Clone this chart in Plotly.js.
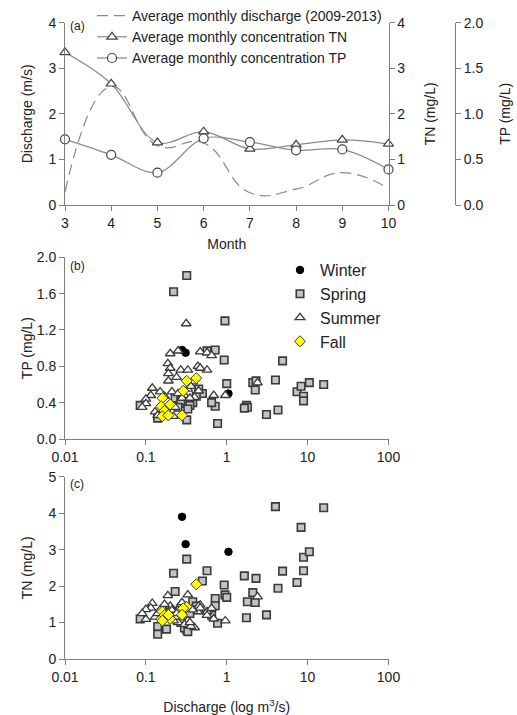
<!DOCTYPE html>
<html>
<head>
<meta charset="utf-8">
<script src="https://cdn.plot.ly/plotly-3.0.1.min.js"></script>
<style>html,body{margin:0;padding:0;background:#fff}#chart{width:517px;height:715px}</style>
</head>
<body>
<div id="chart"></div>
<script>
// ---- Panel (a): monthly averages ----
const months = [3, 4, 5, 6, 7, 8, 9, 10];
const dischargeMonthly = [0.29, 2.6, 1.3, 1.36, 0.27, 0.35, 0.71, 0.36];
const tnMonthly = [3.35, 2.66, 1.37, 1.61, 1.23, 1.32, 1.43, 1.34];
const tpMonthly = [0.72, 0.55, 0.355, 0.73, 0.69, 0.60, 0.61, 0.39];

// ---- Panels (b) & (c): samples by season (discharge, TP, TN) ----
const winterQ  = [0.28, 0.31, 1.05];
const winterTP = [0.98, 0.95, 0.50];
const winterTN = [3.90, 3.15, 2.94];

const springQ  = [1.75, 1.80, 1.65, 2.10, 2.30, 2.25, 3.10, 4.00, 4.30, 4.90, 7.40, 8.30, 8.90, 8.90, 10.5, 15.8,
                  0.57, 0.50, 0.93, 0.95, 1.00, 0.72, 0.72, 0.65, 0.77,
                  0.32, 0.22, 0.23, 0.38, 0.085, 0.14, 0.14, 0.18, 0.32, 0.30, 0.27, 0.35, 0.42, 0.33, 0.25, 0.45];
const springTP = [0.37, 0.35, 0.34, 0.62, 0.64, 0.54, 0.27, 0.65, 0.32, 0.86, 0.52, 0.58, 0.47, 0.42, 0.62, 0.60,
                  0.97, 0.50, 0.87, 1.30, 0.61, 0.98, 0.36, 0.40, 0.17,
                  1.80, 1.62, 0.45, 0.40, 0.37, 0.25, 0.23, 0.28, 0.21, 0.39, 0.42, 0.37, 0.47, 0.33, 0.35, 0.55];
const springTN = [1.13, 1.57, 2.28, 1.82, 2.21, 1.55, 1.21, 4.18, 1.94, 2.41, 2.10, 3.61, 2.79, 2.42, 2.94, 4.15,
                  2.42, 2.14, 2.03, 1.76, 1.69, 1.66, 1.46, 1.20, 0.98,
                  2.74, 2.35, 1.85, 1.57, 1.10, 0.89, 0.68, 0.82, 0.80, 0.85, 1.00, 1.25, 1.45, 0.75, 1.30, 1.35];

const summerQ  = [0.315, 0.20, 0.25, 0.47, 0.57, 0.65, 0.187, 0.20, 0.19, 0.19, 0.27, 0.33, 0.44, 0.57, 0.12, 0.115,
                  0.10, 0.10, 0.09, 0.38, 0.33, 0.21, 0.69, 0.96, 0.40, 2.40, 0.13, 0.14, 0.25, 0.30, 0.36, 0.23,
                  0.17, 0.45, 0.22, 0.28, 0.35, 0.15, 0.47, 0.24];
const summerTP = [1.27, 0.94, 0.97, 0.96, 0.95, 0.92, 0.83, 0.78, 0.72, 0.64, 0.76, 0.76, 0.80, 0.76, 0.56, 0.48,
                  0.44, 0.39, 0.35, 0.63, 0.55, 0.52, 0.48, 0.48, 0.46, 0.62, 0.30, 0.26, 0.50, 0.48, 0.58, 0.35,
                  0.47, 0.53, 0.25, 0.45, 0.45, 0.52, 0.78, 0.68];
const summerTN = [1.45, 1.40, 1.35, 1.48, 1.30, 1.39, 1.74, 1.45, 1.30, 1.20, 1.50, 1.76, 1.30, 1.20, 1.53, 1.40,
                  1.36, 1.09, 1.25, 1.35, 1.05, 1.34, 1.10, 1.05, 0.86, 1.71, 1.15, 1.25, 1.00, 0.95, 0.90, 1.15,
                  1.50, 1.45, 1.05, 1.55, 1.00, 1.35, 1.40, 1.25];

const fallQ  = [0.32, 0.42, 0.29, 0.16, 0.155, 0.20, 0.17, 0.16, 0.19, 0.28];
const fallTP = [0.64, 0.67, 0.53, 0.45, 0.36, 0.38, 0.31, 0.25, 0.26, 0.26];
const fallTN = [1.43, 2.05, 1.39, 1.30, 1.10, 1.10, 1.20, 1.05, 1.21, 1.21];

const logTicks = [0.01, 0.1, 1, 10, 100];
const logTickText = ['0.01', '0.1', '1', '10', '100'];

// ---- styles ----
const FONT = 'Liberation Sans, Arial, sans-serif';
const FS = 14;
const AXC = '#7f7f7f';
const TXT = '#222';
const lineGrey = '#8a8a8a';
const edge = '#3a3a3a';

function axisBase(extra) {
  return Object.assign({
    showline: true, linecolor: AXC, linewidth: 1,
    ticks: 'outside', ticklen: 5, tickcolor: AXC, tickwidth: 1,
    showgrid: false, zeroline: false, automargin: false,
    tickfont: {family: FONT, size: FS, color: TXT}
  }, extra);
}
function ttl(text, standoff) {
  return {text: text, font: {family: FONT, size: FS, color: TXT}, standoff: standoff};
}

const seasonStyles = {
  Winter: {symbol: 'circle', size: 7.5, color: '#000000', line: {color: '#000', width: 1}},
  Spring: {symbol: 'square', size: 7.5, color: '#c4c4c4', line: {color: edge, width: 1.6}},
  Summer: {symbol: 'triangle-up', size: 8.5, color: '#ffffff', line: {color: edge, width: 1.3}},
  Fall:   {symbol: 'diamond', size: 8.5, color: '#ffff00', line: {color: edge, width: 1}}
};

function seasonTrace(name, xs, ys, xa, ya, showLeg) {
  return {
    type: 'scatter', mode: 'markers', name: name,
    x: xs, y: ys, xaxis: xa, yaxis: ya,
    marker: seasonStyles[name],
    legend: 'legend2', showlegend: showLeg, cliponaxis: false
  };
}

const traces = [
  {type: 'scatter', mode: 'lines', name: 'Average monthly discharge (2009-2013)',
   x: months, y: dischargeMonthly, xaxis: 'x', yaxis: 'y',
   line: {color: lineGrey, width: 1.2, dash: '11px,6px', shape: 'spline', smoothing: 1.3},
   legend: 'legend', cliponaxis: false},
  {type: 'scatter', mode: 'lines+markers', name: 'Average monthly concentration TN',
   x: months, y: tnMonthly, xaxis: 'x', yaxis: 'y2',
   line: {color: lineGrey, width: 1.2, shape: 'spline', smoothing: 1.0},
   marker: {symbol: 'triangle-up', size: 9, color: '#fff', line: {color: '#444', width: 1.2}},
   legend: 'legend', cliponaxis: false},
  {type: 'scatter', mode: 'lines+markers', name: 'Average monthly concentration TP',
   x: months, y: tpMonthly, xaxis: 'x', yaxis: 'y3',
   line: {color: lineGrey, width: 1.2, shape: 'spline', smoothing: 1.0},
   marker: {symbol: 'circle', size: 9, color: '#fff', line: {color: '#444', width: 1.2}},
   legend: 'legend', cliponaxis: false},

  seasonTrace('Winter', winterQ, winterTP, 'x2', 'y4', true),
  seasonTrace('Spring', springQ, springTP, 'x2', 'y4', true),
  seasonTrace('Summer', summerQ, summerTP, 'x2', 'y4', true),
  seasonTrace('Fall', fallQ, fallTP, 'x2', 'y4', true),

  seasonTrace('Spring', springQ, springTN, 'x3', 'y5', false),
  seasonTrace('Summer', summerQ, summerTN, 'x3', 'y5', false),
  seasonTrace('Fall', fallQ, fallTN, 'x3', 'y5', false),
  seasonTrace('Winter', winterQ, winterTN, 'x3', 'y5', false)
];

const W = 517, H = 715;
const px = v => v / W;
const py = v => (H - v) / H;

const layout = {
  width: W, height: H,
  margin: {l: 0, r: 0, t: 0, b: 0},
  paper_bgcolor: '#fff', plot_bgcolor: 'rgba(0,0,0,0)',
  font: {family: FONT, size: FS, color: TXT},
  showlegend: true,
  // Panel (a)
  xaxis: axisBase({domain: [px(65), px(388.5)], anchor: 'y', range: [3, 10],
    tickvals: months, title: ttl('Month', 9)}),
  yaxis: axisBase({domain: [py(205), py(22.7)], anchor: 'x', range: [0, 4],
    tickvals: [0, 1, 2, 3, 4], title: ttl('Discharge (m/s)', 12)}),
  yaxis2: axisBase({overlaying: 'y', side: 'right', anchor: 'x', range: [0, 4],
    tickvals: [0, 1, 2, 3, 4], title: ttl('TN (mg/L)', 20)}),
  yaxis3: axisBase({overlaying: 'y', side: 'right', anchor: 'free', position: px(455), range: [0, 2],
    tickvals: [0, 0.5, 1, 1.5, 2], tickformat: '.1f', title: ttl('TP (mg/L)', 17)}),
  // Panel (b)
  xaxis2: axisBase({domain: [px(65), px(388.5)], anchor: 'y4', type: 'log', range: [-2, 2],
    tickvals: logTicks, ticktext: logTickText}),
  yaxis4: axisBase({domain: [py(439), py(257.3)], anchor: 'x2', range: [0, 2],
    tickvals: [0, 0.4, 0.8, 1.2, 1.6, 2.0], tickformat: '.1f', title: ttl('TP (mg/L)', 0)}),
  // Panel (c)
  xaxis3: axisBase({domain: [px(65), px(388.5)], anchor: 'y5', type: 'log', range: [-2, 2],
    tickvals: logTicks, ticktext: logTickText, title: ttl('Discharge (log m<sup>3</sup>/s)', 18)}),
  yaxis5: axisBase({domain: [py(659), py(476.7)], anchor: 'x3', range: [0, 5],
    tickvals: [0, 1, 2, 3, 4, 5], title: ttl('TN (mg/L)', 12)}),
  legend: {x: px(92), y: py(0), xanchor: 'left', yanchor: 'top',
    bgcolor: 'rgba(255,255,255,0)', borderwidth: 0, tracegroupgap: 0,
    font: {family: FONT, size: FS, color: TXT}, itemwidth: 30},
  legend2: {x: px(280), y: py(253), xanchor: 'left', yanchor: 'top',
    bgcolor: 'rgba(255,255,255,0)', borderwidth: 0,
    font: {family: FONT, size: 16, color: TXT}},
  annotations: [
    {text: '(a)', x: px(68), y: py(26), xref: 'paper', yref: 'paper', xanchor: 'left', yanchor: 'middle', showarrow: false, font: {size: 12, color: TXT}},
    {text: '(b)', x: px(68), y: py(266), xref: 'paper', yref: 'paper', xanchor: 'left', yanchor: 'middle', showarrow: false, font: {size: 12, color: TXT}},
    {text: '(c)', x: px(68), y: py(484), xref: 'paper', yref: 'paper', xanchor: 'left', yanchor: 'middle', showarrow: false, font: {size: 12, color: TXT}}
  ]
};

Plotly.newPlot('chart', traces, layout, {displayModeBar: false, staticPlot: true});
</script>
</body>
</html>
